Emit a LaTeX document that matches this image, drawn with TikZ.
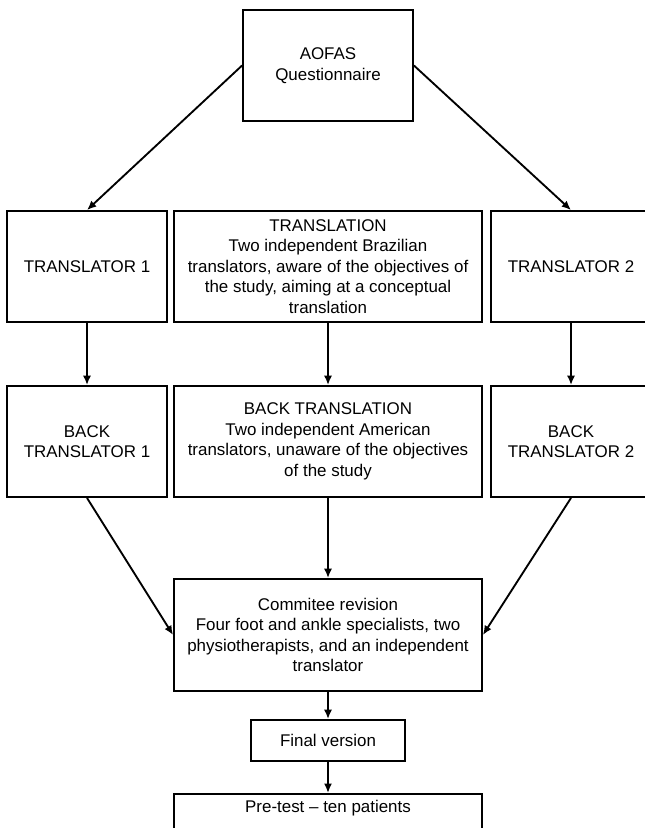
\documentclass[tikz,border=0pt]{standalone}
\usepackage{fontspec}
\setmainfont{Liberation Sans}
\usetikzlibrary{arrows.meta,positioning}
\tikzset{
  every picture/.style={line width=1.4pt},
  box/.style={draw, align=center, inner sep=2pt, font=\fontsize{12.7}{15.4}\selectfont},
  side/.style={box, minimum width=120pt, minimum height=83.25pt},
  wide/.style={box, minimum width=231pt, minimum height=83.25pt},
  flow/.style={-{Latex[length=7pt,width=6pt]}},
}

\begin{document}
\begin{tikzpicture}[x=0.75pt,y=-0.75pt]
    \useasboundingbox (0,0) rectangle (644,828);

    % questionnaire
    \node[box, minimum width=127.5pt, minimum height=83.25pt] (aofas) at (328,65.5) {AOFAS\\Questionnaire};

    % translation row
    \node[side] (tr1) at (87,266.5) {TRANSLATOR 1};
    \node[wide] (trans) at (328,266.5) {TRANSLATION\\Two independent Brazilian\\translators, aware of the objectives of\\the study, aiming at a conceptual\\translation};
    \node[side] (tr2) at (571,266.5) {TRANSLATOR 2};

    % back translation row
    \node[side] (btr1) at (87,441.5) {BACK\\TRANSLATOR 1};
    \node[wide] (btrans) at (328,441.5) {BACK TRANSLATION\\Two independent American\\translators, unaware of the objectives\\of the study};
    \node[side] (btr2) at (571,441.5) {BACK\\TRANSLATOR 2};

    % committee and final steps
    \node[wide, minimum height=84pt] (comm) at (328,635) {Commitee revision\\Four foot and ankle specialists, two\\physiotherapists, and an independent\\translator};
    \node[box, minimum width=115.5pt, minimum height=30.75pt] (final) at (328,740.5) {Final version};
    \node[box, minimum width=231pt, anchor=north, inner ysep=5pt, text depth=60pt] (pretest) at (328,793) {Pre-test – ten patients};

    % arrows
    \draw[flow] (aofas.west) -- (tr1.north);
    \draw[flow] (aofas.east) -- (tr2.north);
    \draw[flow] (tr1) -- (btr1);
    \draw[flow] (trans) -- (btrans);
    \draw[flow] (tr2) -- (btr2);
    \draw[flow] (btr1.south) -- (comm.west);
    \draw[flow] (btrans) -- (comm);
    \draw[flow] (btr2.south) -- (comm.east);
    \draw[flow] (comm) -- (final);
    \draw[flow] (final) -- (pretest);
\end{tikzpicture}
\end{document}
